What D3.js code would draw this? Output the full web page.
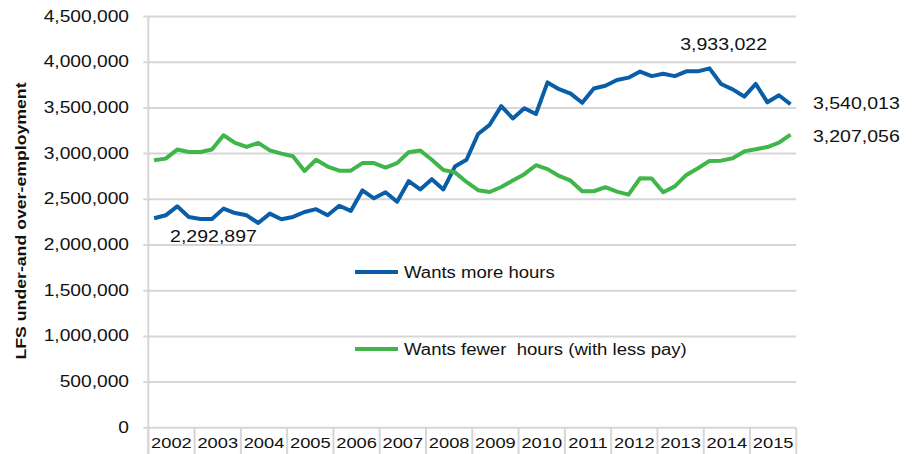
<!DOCTYPE html>
<html>
<head>
<meta charset="utf-8">
<script src="https://cdn.jsdelivr.net/npm/d3@7"></script>
<style>
  html, body { margin: 0; padding: 0; background: #fff; }
  svg { display: block; }
  text { font-family: "Liberation Sans", Arial, Helvetica, sans-serif; fill: #111; }
</style>
</head>
<body>
<svg id="chart" width="916" height="454"></svg>
<script>
// ---- data ----
const years = [2002, 2003, 2004, 2005, 2006, 2007, 2008, 2009, 2010, 2011, 2012, 2013, 2014, 2015];
const quarters = years.flatMap(y => ["Q1", "Q2", "Q3", "Q4"].map(q => y + q));

const wantsMore = [
  2292897, 2325000, 2423000, 2307000, 2285000, 2285000, 2398000, 2350000,
  2325000, 2241000, 2343000, 2281000, 2307000, 2361000, 2392000, 2325000,
  2429000, 2373000, 2597000, 2511000, 2578000, 2474000, 2698000, 2608000,
  2720000, 2608000, 2858000, 2933000, 3215000, 3315000, 3519000, 3385000,
  3496000, 3433000, 3779000, 3705000, 3656000, 3556000, 3712000, 3742000,
  3805000, 3831000, 3898000, 3848000, 3874000, 3848000, 3900000, 3900000,
  3933022, 3762000, 3703000, 3624000, 3762000, 3561000, 3638000, 3540013
];
const wantsFewer = [
  2927000, 2945000, 3044000, 3018000, 3018000, 3044000, 3201000, 3117000,
  3073000, 3117000, 3036000, 3000000, 2971000, 2810000, 2933000, 2858000,
  2813000, 2813000, 2896000, 2896000, 2847000, 2896000, 3015000, 3034000,
  2933000, 2821000, 2795000, 2690000, 2600000, 2580000, 2635000, 2705000,
  2775000, 2873000, 2830000, 2756000, 2704000, 2588000, 2588000, 2633000,
  2584000, 2551000, 2730000, 2727000, 2578000, 2641000, 2767000, 2840000,
  2920000, 2923000, 2950000, 3024000, 3048000, 3072000, 3119000, 3207056
];
const yTicks = [0, 500000, 1000000, 1500000, 2000000, 2500000, 3000000, 3500000, 4000000, 4500000];
const seriesNames = ["Wants more hours", "Wants fewer  hours (with less pay)"];
const seriesColors = ["#0a5ea8", "#40b64a"];
const yTitle = "LFS under-and over-employment";
const callouts = [
  { series: 0, index: 0, text: "2,292,897" },
  { series: 0, index: 48, text: "3,933,022" },
  { series: 0, index: 55, text: "3,540,013" },
  { series: 1, index: 55, text: "3,207,056" }
];

// ---- layout ----
const svg = d3.select("#chart");
const X0 = 148.3, X1 = 796.3, Y0 = 427.8, Y1 = 16.5;
const SX = 1.22; // horizontal glyph stretch of the original text

const x = d3.scaleBand().domain(quarters).range([X0, X1]);
const xYear = d3.scaleBand().domain(years).range([X0, X1]);
const y = d3.scaleLinear().domain([0, 4500000]).range([Y0, Y1]);
const fmt = d3.format(",");

function stretchedText(g, tx, ty, str, size, anchor, sx, weight) {
  return g.append("text")
    .attr("transform", `translate(${tx},${ty}) scale(${sx},1)`)
    .attr("text-anchor", anchor || "start")
    .attr("font-size", size)
    .attr("font-weight", weight || "normal")
    .text(str);
}

// gridlines
const grid = svg.append("g");
grid.selectAll("line.grid").data(yTicks).join("line")
  .attr("x1", X0).attr("x2", X1)
  .attr("y1", d => y(d)).attr("y2", d => y(d))
  .attr("stroke", "#d6d6d6").attr("stroke-width", 2);
// left tick marks
grid.selectAll("line.tk").data(yTicks).join("line")
  .attr("x1", X0 - 5).attr("x2", X0)
  .attr("y1", d => y(d)).attr("y2", d => y(d))
  .attr("stroke", "#d6d6d6").attr("stroke-width", 2);
// y axis line
grid.append("line")
  .attr("x1", X0).attr("x2", X0).attr("y1", Y1).attr("y2", 454)
  .attr("stroke", "#d6d6d6").attr("stroke-width", 2);
// year separators
const bounds = years.map(yr => xYear(yr)).concat([X1]);
grid.selectAll("line.sep").data(bounds).join("line")
  .attr("x1", d => d).attr("x2", d => d)
  .attr("y1", Y0).attr("y2", 454)
  .attr("stroke", "#d6d6d6").attr("stroke-width", 2);

// y tick labels
const yl = svg.append("g");
yTicks.forEach(t => stretchedText(yl, 129, y(t) + 5, fmt(t), 16, "end", 1.2));

// year labels
const xl = svg.append("g");
years.forEach(yr => stretchedText(xl, xYear(yr) + xYear.bandwidth() / 2, 448, String(yr), 15, "middle", SX));

// y title
svg.append("text")
  .attr("transform", `translate(25.5,221) rotate(-90) scale(1.18,1)`)
  .attr("text-anchor", "middle")
  .attr("font-size", 15)
  .attr("font-weight", "bold")
  .text(yTitle);

// lines
const line = d3.line()
  .x((d, i) => x(quarters[i]) + x.bandwidth() / 2)
  .y(d => y(d));
[wantsMore, wantsFewer].forEach((s, k) => {
  svg.append("path")
    .datum(s)
    .attr("d", line)
    .attr("fill", "none")
    .attr("stroke", seriesColors[k])
    .attr("stroke-width", 4)
    .attr("stroke-linejoin", "round")
    .attr("stroke-linecap", "butt");
});

// legend
const legendPos = [{ y: 272 }, { y: 349 }];
seriesNames.forEach((name, k) => {
  svg.append("line")
    .attr("x1", 355).attr("x2", 398)
    .attr("y1", legendPos[k].y).attr("y2", legendPos[k].y)
    .attr("stroke", seriesColors[k]).attr("stroke-width", 4);
  stretchedText(svg, 404, legendPos[k].y + 6, name, 16, "start", 1.16)
    .attr("xml:space", "preserve").style("white-space", "pre");
});

// callout labels
const calloutPos = [
  { dx: 16, ty: 242, anchor: "start" },
  { dx: 0, ty: 49.5, anchor: "end", absX: 767 },
  { dx: 0, ty: 108.5, anchor: "start", absX: 813 },
  { dx: 0, ty: 142, anchor: "start", absX: 813 }
];
callouts.forEach((c, k) => {
  const px = x(quarters[c.index]) + x.bandwidth() / 2;
  const p = calloutPos[k];
  const tx = p.absX !== undefined ? p.absX : px + p.dx;
  stretchedText(svg, tx, p.ty, c.text, 16, p.anchor, SX);
});
</script>
</body>
</html>
